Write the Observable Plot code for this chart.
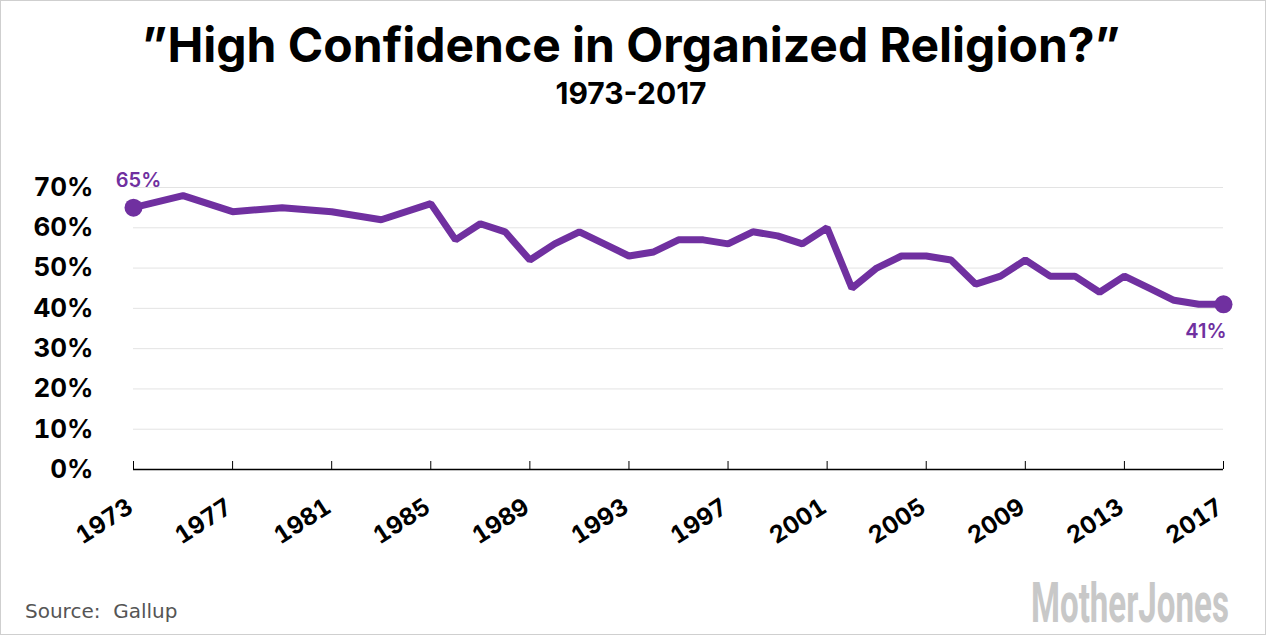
<!DOCTYPE html>
<html><head><meta charset="utf-8">
<script src="https://cdn.jsdelivr.net/npm/d3@7"></script>
<script src="https://cdn.jsdelivr.net/npm/@observablehq/plot@0.6"></script>
<style>
html,body{margin:0;padding:0;background:#fff;}
#frame{position:relative;width:1267px;height:636px;overflow:hidden;background:#fff;}
#border{position:absolute;left:0;top:0;width:1266px;height:635px;box-sizing:border-box;border:1px solid #cfcfcf;pointer-events:none;z-index:5;}
#title{position:absolute;left:0;width:1262px;top:21px;text-align:center;font-family:Inter,sans-serif;font-weight:700;font-size:48px;line-height:1;color:#000;white-space:nowrap;}
#subtitle{position:absolute;left:0;width:1262px;top:78px;text-align:center;font-family:Inter,sans-serif;font-weight:700;font-size:30px;line-height:1;color:#000;}
#chart{position:absolute;left:0;top:110px;}
#source{position:absolute;left:25px;top:601px;font-family:"DejaVu Sans",sans-serif;font-size:20px;line-height:1;color:#555;white-space:pre;}
#logo{position:absolute;left:1031px;top:562px;}
</style>
</head>
<body>
<div id="frame">
  <div id="title">”High Confidence in Organized Religion?”</div>
  <div id="subtitle">1973-2017</div>
  <div id="chart"></div>
  <div id="source">Source:  Gallup</div>
  <svg id="logo" width="232" height="74"><text id="logotext" x="0" y="60" font-family="'Liberation Sans Narrow','Roboto','Arial Narrow',sans-serif" font-weight="700" font-size="55" fill="#c8c8c8">MotherJones</text></svg>
  <div id="border"></div>
</div>
<script>
const years = [1973,1975,1977,1979,1981,1983,1985,1986,1987,1988,1989,1990,1991,1992,1993,1994,1995,1996,1997,1998,1999,2000,2001,2002,2003,2004,2005,2006,2007,2008,2009,2010,2011,2012,2013,2014,2015,2016,2017];
const values = [65,68,64,65,64,62,66,57,61,59,52,56,59,56,53,54,57,57,56,59,58,56,60,45,50,53,53,52,46,48,52,48,48,44,48,45,42,41,41];
const xTicks = [1973,1977,1981,1985,1989,1993,1997,2001,2005,2009,2013,2017];
const yTicks = [0,10,20,30,40,50,60,70];

const purple = "#7030a0";
const data = years.map((year, i) => ({year, value: values[i]}));
const first = [data[0]];
const last = [data[data.length - 1]];

const chart = Plot.plot({
  width: 1267,
  height: 460,
  marginTop: 77,
  marginBottom: 101,
  marginLeft: 133,
  marginRight: 44,
  style: {fontFamily: "Inter, sans-serif", overflow: "visible", background: "transparent"},
  x: {domain: [1973, 2017]},
  y: {domain: [0, 70]},
  marks: [
    Plot.gridY(yTicks.filter(d => d > 0), {stroke: "#e3e3e3", strokeOpacity: 1, strokeWidth: 1}),
    Plot.axisY(yTicks, {tickSize: 0, tickPadding: 40, tickFormat: d => d + "%", fontSize: 26, fontWeight: 700, fill: "#000", label: null}),
    Plot.ruleY([0], {stroke: "#000", strokeWidth: 1.5}),
    Plot.axisX(xTicks, {tickSize: 8, dy: -8, tickFormat: () => "", stroke: "#000", label: null}),
    Plot.axisX(xTicks, {tickSize: 0, tickPadding: 35, tickRotate: -33, dx: -3, tickFormat: d => String(d), fontSize: 24, fontWeight: 700, fill: "#000", label: null}),
    Plot.line(data, {x: "year", y: "value", stroke: purple, strokeWidth: 7, strokeLinejoin: "miter", strokeLinecap: "butt"}),
    Plot.dot(first.concat(last), {x: "year", y: "value", r: 9, fill: purple}),
    Plot.text(first, {x: "year", y: "value", text: d => d.value + "%", dx: 5, dy: -21, lineAnchor: "bottom", textAnchor: "middle", fill: purple, fontSize: 20, fontWeight: 600}),
    Plot.text(last, {x: "year", y: "value", text: d => d.value + "%", dx: 3, dy: 34, lineAnchor: "bottom", textAnchor: "end", fill: purple, fontSize: 20, fontWeight: 600})
  ]
});
document.getElementById("chart").appendChild(chart);

// squeeze the logo word mark to the reference width
const lt = document.getElementById("logotext");
const natural = lt.getComputedTextLength();
if (natural > 0) lt.setAttribute("transform", `scale(${(198 / natural).toFixed(4)},1)`);
</script>
</body></html>
